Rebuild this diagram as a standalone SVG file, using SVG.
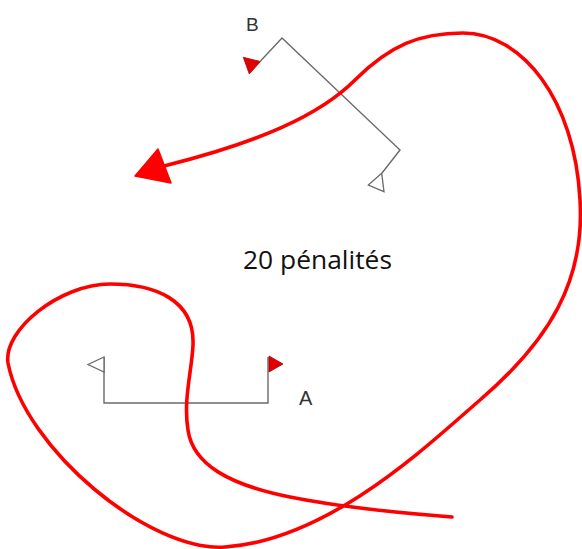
<svg xmlns="http://www.w3.org/2000/svg" width="582" height="549" viewBox="0 0 582 549">
<style>
.gate{fill:none;stroke:#6a6a6a;stroke-width:1.4;stroke-linejoin:miter}
.hollow{fill:#fff;stroke:#6a6a6a;stroke-width:1.3}
.flag{fill:#e00000;stroke:#b00000;stroke-width:0.8}
.lbl{font-family:"Liberation Sans",Arial,sans-serif;fill:#333}
.route{fill:none;stroke:#ff0000;stroke-width:3.6;stroke-linecap:round;stroke-linejoin:round}
</style>
<rect width="582" height="549" fill="#fff"/>
<g id="gate-B">
  <polyline class="gate" points="260.5,61 282,38 400,150 382,173"/>
  <polygon class="flag" points="243.3,57.3 260.5,61.5 249.3,74"/>
  <polygon class="hollow" points="381.7,173.3 368.3,185 384,191.7"/>
  <text class="lbl" x="246" y="31" font-size="19">B</text>
</g>
<g id="gate-A">
  <polyline class="gate" points="104,357 104,403 268,403 268,357"/>
  <polygon class="hollow" points="88,364.5 104,357 104,372"/>
  <polygon class="flag" points="269,356 283,364 269,372"/>
  <text class="lbl" x="299" y="405" font-size="20">A</text>
</g>
<g id="penalty-label">
  <text x="243" y="269" font-family="'Open Sans','Liberation Sans',sans-serif" font-size="26" fill="#111" textLength="149" lengthAdjust="spacingAndGlyphs">20 pénalités</text>
</g>
<g id="connectors">
  <path class="route" d="M164,166 C260,142 320,115 355,80 C390,45 420,33 463,33 C522,33 575,100 580,200 C585,280 550,340 480,400 C430,443 330,540 225,547 C150,552 25,450 8,363 C3,330 60,284 110,284 C155,284 195,300 193,345 C192,370 183,400 188,430 C193,465 230,485 290,497 C340,507 400,513 452,517"/>
  <polygon points="135,176 158,149 171,183" fill="#ff0000" stroke="#ff0000" stroke-width="1.5" stroke-linejoin="round"/>
</g>
</svg>
